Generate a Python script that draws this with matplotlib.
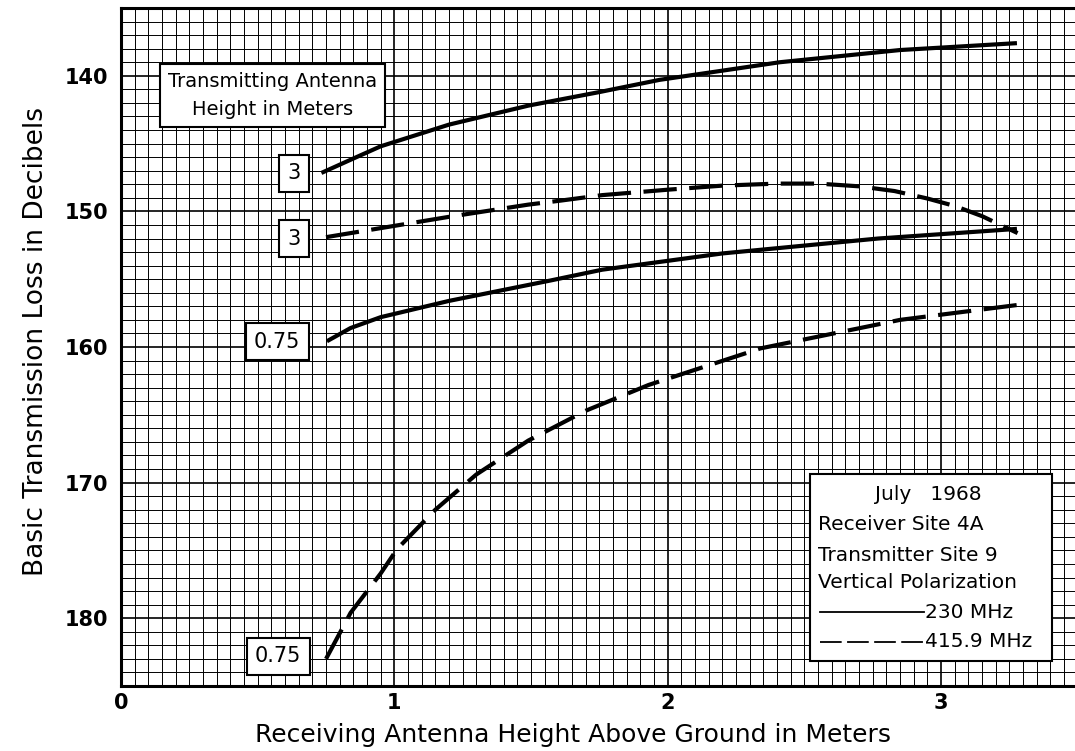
import numpy as np
import matplotlib
matplotlib.use('Agg')
import matplotlib.pyplot as plt
from matplotlib.patches import Rectangle
from matplotlib.lines import Line2D

plt.rcParams['font.family'] = ['DejaVu Sans']

# Dados (altura da antena receptora em m, perda em dB)
x_230_3 = [0.74, 0.85, 0.95, 1.2, 1.49, 1.75, 1.97, 2.41, 2.85, 3.27]
y_230_3 = [147.1, 146.1, 145.2, 143.6, 142.2, 141.2, 140.3, 139.0, 138.1, 137.6]

x_416_3 = [0.75, 0.84, 1.2, 1.49, 1.61, 1.76, 2.0, 2.2, 2.4, 2.55, 2.7, 2.83, 2.95, 3.05, 3.15, 3.28]
y_416_3 = [151.9, 151.6, 150.4, 149.5, 149.2, 148.8, 148.4, 148.1, 147.95, 147.95, 148.15, 148.5, 149.05, 149.6, 150.35, 151.6]

x_230_075 = [0.76, 0.84, 0.95, 1.2, 1.57, 1.76, 2.2, 2.77, 3.27]
y_230_075 = [159.5, 158.6, 157.8, 156.6, 155.1, 154.3, 153.1, 152.0, 151.3]

x_416_075 = [0.75, 0.84, 0.95, 1.01, 1.15, 1.3, 1.49, 1.7, 1.93, 2.34, 2.85, 3.28]
y_416_075 = [183.0, 179.6, 176.7, 174.9, 172.0, 169.4, 166.9, 164.7, 162.8, 160.1, 158.0, 156.9]

rotulos = ['3', '3', '0.75', '0.75']
legenda = ['July   1968', 'Receiver Site 4A', 'Transmitter Site 9', 'Vertical Polarization']
freqs = ['230 MHz', '415.9 MHz']

fig = plt.figure(figsize=(10.75, 7.51), dpi=100)
ax = fig.add_axes([121/1075, 1 - 686/751, 954/1075, 678/751])

# Papel milimetrado
for xv in np.arange(0.05, 3.5, 0.05):
    major = abs(xv - round(xv)) < 1e-6
    ax.axvline(xv, color='black', lw=1.2 if major else 0.7, zorder=1)
for yv in range(136, 185):
    major = yv % 10 == 0
    ax.axhline(yv, color='black', lw=1.2 if major else 0.7, zorder=1)

traco = (8, 3)
ax.plot(x_230_3, y_230_3, color='black', lw=3, zorder=3)
ax.plot(x_416_3, y_416_3, color='black', lw=3, zorder=3, dashes=traco)
ax.plot(x_230_075, y_230_075, color='black', lw=3, zorder=3)
ax.plot(x_416_075, y_416_075, color='black', lw=3, zorder=3, dashes=traco)

caixa = dict(boxstyle='square,pad=0.4', fc='white', ec='black', lw=1.5)
pos = [(0.634, 147.2), (0.634, 152.0), (0.571, 159.6), (0.575, 182.8)]
for r, (px, py) in zip(rotulos, pos):
    ax.text(px, py, r, ha='center', va='center', fontsize=15, bbox=caixa, zorder=5)

ax.text(0.159, 0.871, 'Transmitting Antenna\nHeight in Meters', transform=ax.transAxes,
        ha='center', va='center', fontsize=14, linespacing=1.6,
        bbox=dict(boxstyle='square,pad=0.4', fc='white', ec='black', lw=1.5), zorder=5)

# Caixa da legenda
ax.add_patch(Rectangle((0.722, 0.037), 0.254, 0.276, transform=ax.transAxes,
                       fc='white', ec='black', lw=1.5, zorder=5))
ax.text(0.846, 0.282, legenda[0], transform=ax.transAxes, ha='center', va='center',
        fontsize=14.5, zorder=6)
for t, yy in zip(legenda[1:], [0.2375, 0.193, 0.152]):
    ax.text(0.731, yy, t, transform=ax.transAxes, ha='left', va='center', fontsize=14.5, zorder=6)
for f, yy, ls in zip(freqs, [0.109, 0.065], ['-', '--']):
    ln = Line2D([0.733, 0.842], [yy, yy], transform=ax.transAxes, color='black', lw=1.3, zorder=6)
    if ls == '--':
        ln.set_dashes((12, 3))
    ax.add_line(ln)
    ax.text(0.843, yy, f, transform=ax.transAxes, ha='left', va='center', fontsize=14.5, zorder=6)

ax.set_xlim(0, 3.49)
ax.set_ylim(185, 135)
ax.set_xticks([0, 1, 2, 3])
ax.set_xticklabels(['0', '1', '2', '3'], fontsize=15, fontweight='bold')
ax.set_yticks([140, 150, 160, 170, 180])
ax.set_yticklabels(['140', '150', '160', '170', '180'], fontsize=15, fontweight='bold')
ax.tick_params(length=0, pad=5)
ax.tick_params(axis='y', pad=9)

for s in ['left', 'top', 'bottom']:
    ax.spines[s].set_linewidth(2.2)
    ax.spines[s].set_zorder(4)
ax.spines['right'].set_visible(False)

ax.set_xlabel('Receiving Antenna Height Above Ground in Meters', fontsize=18)
ax.xaxis.set_label_coords(0.474, -0.055)
fig.text(36/1075, 1 - 342/751, 'Basic Transmission Loss in Decibels', rotation=90,
         ha='center', va='center', fontsize=19)

fig.savefig('out.png', dpi=100)
